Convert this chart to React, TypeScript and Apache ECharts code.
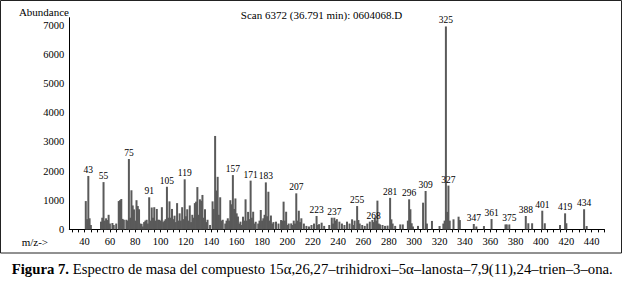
import React, { useEffect, useRef } from "react";
import * as echarts from "echarts";

const mzValues: number[] = [
  41, 42, 43, 44, 45, 53, 54, 55, 56, 57, 58, 59, 60, 62, 63, 65, 67, 68, 69, 70, 71, 73, 74, 75, 76, 77, 78, 79, 80,
  81, 82, 83, 84, 85, 86, 87, 88, 89, 90, 91, 92, 93, 94, 95, 96, 97, 98, 99, 100, 101, 102, 103, 104, 105, 106, 107,
  108, 109, 110, 111, 112, 113, 114, 115, 116, 117, 118, 119, 120, 121, 122, 123, 124, 125, 126, 127, 128, 129, 130,
  131, 132, 133, 134, 135, 136, 137, 139, 141, 142, 143, 144, 145, 146, 147, 148, 149, 151, 152, 153, 154, 155, 156,
  157, 158, 159, 160, 161, 162, 163, 164, 165, 166, 167, 168, 169, 170, 171, 172, 173, 174, 175, 177, 178, 179, 180,
  181, 182, 183, 184, 185, 186, 187, 188, 189, 191, 193, 195, 196, 197, 198, 199, 200, 201, 203, 204, 205, 206, 207,
  208, 209, 210, 211, 213, 215, 217, 219, 221, 223, 224, 225, 227, 229, 233, 235, 236, 237, 238, 239, 241, 243, 245,
  247, 249, 251, 252, 253, 255, 256, 257, 259, 261, 263, 265, 267, 268, 269, 270, 271, 272, 273, 275, 277, 279, 281,
  282, 283, 285, 289, 291, 295, 296, 297, 298, 299, 303, 307, 309, 310, 314, 320, 323, 324, 325, 326, 327, 328, 331,
  335, 336, 347, 349, 355, 361, 372, 373, 375, 388, 390, 393, 401, 403, 415, 419, 420, 434, 436,
];

const abundances: number[] = [
  970, 350, 1830, 380, 150, 265, 400, 1620, 300, 380, 320, 500, 200, 220, 150, 200, 970, 1000, 1040, 360, 330, 330, 300,
  2410, 400, 1340, 820, 685, 300, 1000, 800, 690, 200, 190, 100, 250, 300, 330, 200, 1100, 300, 750, 400, 760, 300, 700,
  330, 330, 300, 760, 250, 300, 350, 1460, 400, 960, 400, 700, 350, 470, 250, 900, 300, 550, 300, 760, 350, 1715, 450,
  690, 300, 820, 250, 500, 400, 900, 950, 1450, 500, 1030, 980, 1180, 400, 690, 250, 330, 150, 960, 700, 3200, 1330,
  1800, 500, 1100, 300, 330, 200, 300, 380, 300, 1000, 860, 1860, 700, 1060, 550, 440, 200, 265, 150, 435, 300, 1030,
  300, 600, 350, 1670, 400, 605, 200, 265, 200, 300, 665, 300, 380, 500, 1610, 450, 1290, 300, 475, 200, 250, 265, 200,
  320, 300, 950, 300, 605, 150, 200, 205, 150, 300, 200, 1235, 300, 640, 250, 380, 200, 120, 100, 150, 200, 460, 150,
  180, 230, 120, 150, 400, 200, 400, 300, 350, 265, 200, 150, 265, 200, 345, 150, 300, 800, 320, 200, 150, 120, 200,
  265, 320, 250, 400, 300, 985, 200, 170, 150, 120, 130, 1080, 345, 200, 120, 170, 170, 300, 1030, 690, 210, 100, 120,
  915, 1315, 200, 290, 115, 200, 300, 6950, 600, 1500, 300, 345, 435, 320, 185, 100, 115, 355, 170, 170, 170, 460, 210,
  210, 640, 210, 150, 550, 210, 690, 115,
];

const labeledPeaks: number[] = [
  43, 55, 75, 91, 105, 119, 157, 171, 183, 207, 223, 237, 255, 268, 281, 296, 309, 325, 327, 347, 361, 375, 388, 401,
  419, 434,
];

const xTickLabels: number[] = [40, 60, 80, 100, 120, 140, 160, 180, 200, 220, 240, 260, 280, 300, 320, 340, 360, 380, 400, 420, 440];
const xMinorTicks: number[] = [];
for (let v = 30; v <= 450; v += 5) xMinorTicks.push(v);

const titleText = "Scan 6372 (36.791 min): 0604068.D";
const captionBold = "Figura 7.";
const captionRest =
  " Espectro de masa del compuesto 15α,26,27–trihidroxi–5α–lanosta–7,9(11),24–trien–3–ona.";

const SERIF = "Liberation Serif";

export default function App() {
  const ref = useRef<HTMLDivElement>(null);

  useEffect(() => {
    if (!ref.current) return;
    const chart = echarts.init(ref.current, undefined, { renderer: "svg" });
    const data = mzValues.map((mz, i) => ({
      value: [mz, abundances[i]],
      label: { show: labeledPeaks.includes(mz) },
    }));
    chart.setOption({
      animation: false,
      backgroundColor: "#ffffff",
      textStyle: { fontFamily: SERIF },
      grid: {
        left: 69.3,
        right: 19.6,
        top: 17.7,
        bottom: 58.6,
        containLabel: false,
        outerBoundsMode: "none",
      },
      xAxis: {
        type: "value",
        min: 28,
        max: 450,
        splitLine: { show: false },
        axisLine: { show: true, lineStyle: { color: "#000", width: 1 } },
        axisTick: {
          show: true,
          length: 3,
          customValues: xMinorTicks,
          lineStyle: { color: "#000", width: 1 },
        },
        axisLabel: {
          customValues: xTickLabels,
          margin: 7,
          color: "#000",
          fontFamily: SERIF,
          fontSize: 10.5,
        },
      },
      yAxis: {
        type: "value",
        min: 0,
        max: 7250,
        interval: 1000,
        splitLine: { show: false },
        axisLine: { show: true, lineStyle: { color: "#000", width: 1 } },
        axisTick: { show: false },
        axisLabel: {
          margin: 5,
          color: "#000",
          fontFamily: SERIF,
          fontSize: 10.5,
          formatter: (v: number) => (v % 1000 === 0 ? String(v) : ""),
        },
      },
      series: [
        {
          type: "bar",
          data,
          barWidth: 2,
          itemStyle: { color: "#5a5a5a" },
          label: {
            position: "top",
            distance: 1,
            color: "#000",
            fontFamily: SERIF,
            fontSize: 9.5,
            formatter: (p: any) => String(p.value[0]),
          },
        },
      ],
      graphic: [
        {
          type: "rect",
          shape: { x: 0.5, y: 0.5, width: 621, height: 252.5 },
          style: { fill: "none", stroke: "#222", lineWidth: 1 },
          silent: true,
        },
        {
          type: "text",
          x: 69,
          y: 11.7,
          style: {
            text: "Abundance",
            fill: "#000",
            fontFamily: SERIF,
            fontSize: 11,
            textAlign: "right",
            textVerticalAlign: "middle",
          },
        },
        {
          type: "text",
          x: 321.5,
          y: 15,
          style: {
            text: titleText,
            fill: "#000",
            fontFamily: SERIF,
            fontSize: 11,
            textAlign: "center",
            textVerticalAlign: "middle",
          },
        },
        {
          type: "text",
          x: 21.7,
          y: 241.7,
          style: {
            text: "m/z->",
            fill: "#000",
            fontFamily: SERIF,
            fontSize: 11,
            textAlign: "left",
            textVerticalAlign: "middle",
          },
        },
        {
          type: "text",
          x: 11.7,
          y: 269,
          style: {
            text: `{b|${captionBold}}{n|${captionRest}}`,
            textAlign: "left",
            textVerticalAlign: "middle",
            rich: {
              b: { fontFamily: SERIF, fontSize: 14.75, fontWeight: "bold", fill: "#000" },
              n: { fontFamily: SERIF, fontSize: 14.75, fill: "#000" },
            },
          },
        },
      ],
    });
    return () => chart.dispose();
  }, []);

  return (
    <div
      ref={ref}
      style={{ position: "absolute", left: 0, top: 0, width: 624, height: 288, background: "#fff" }}
    />
  );
}
